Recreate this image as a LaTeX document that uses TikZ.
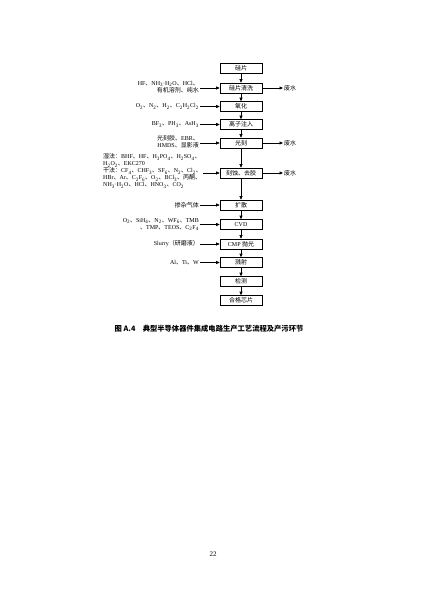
\documentclass[tikz,border=0pt]{standalone}
\usepackage{fontspec}
\setmainfont{Liberation Serif}
\newfontfamily\cjk{Noto Sans CJK SC}
\usetikzlibrary{arrows.meta}
\newcommand{\zhw}[1]{{\cjk #1}}
\newcommand{\chs}[1]{\textsubscript{#1}}

\begin{document}
\begin{tikzpicture}[x=1pt,y=-1pt,
        proc/.style = {draw, line width=0.6pt, minimum width=42pt, minimum height=10pt, inner sep=0pt, font=\fontsize{6}{7}\selectfont},
        lab/.style = {inner sep=1pt, font=\fontsize{6}{7}\selectfont},
        arrow/.style = {line width=0.6pt, -{Triangle[length=3.5pt,width=3pt]}}
        ]
        \useasboundingbox (0,0) rectangle (422,596);

        % process chain
        \node[proc] (wafer) at (241,68) {\zhw{硅片}};
        \node[proc] (clean) at (241,88) {\zhw{硅片清洗}};
        \node[proc] (oxid) at (241,106.5) {\zhw{氧化}};
        \node[proc] (implant) at (241,124.5) {\zhw{离子注入}};
        \node[proc] (litho) at (241,143) {\zhw{光刻}};
        \node[proc] (etch) at (241,173) {\zhw{刻蚀、去胶}};
        \node[proc] (diff) at (241,205) {\zhw{扩散}};
        \node[proc] (cvd) at (241,224.5) {CVD};
        \node[proc] (cmp) at (241,244) {CMP \zhw{抛光}};
        \node[proc] (sput) at (241,262.5) {\zhw{溅射}};
        \node[proc] (test) at (241,281.5) {\zhw{检测}};
        \node[proc] (chip) at (241,300.5) {\zhw{合格芯片}};

        \foreach \a/\b in {wafer/clean, clean/oxid, oxid/implant, implant/litho, litho/etch,
                etch/diff, diff/cvd, cvd/cmp, cmp/sput, sput/test, test/chip}
            \draw[arrow] (\a) -- (\b);

        % inputs
        \node[lab, anchor=east, align=right] (in1) at (200,87) {HF\zhw{、}NH\chs{3}·H\chs{2}O\zhw{、}HCl\zhw{、}\\\zhw{有机溶剂、纯水}};
        \node[lab, anchor=east] (in2) at (200,106.5) {O\chs{2}\zhw{、}N\chs{2}\zhw{、}H\chs{2}\zhw{、}C\chs{2}H\chs{2}Cl\chs{2}};
        \node[lab, anchor=east] (in3) at (200,124.5) {BF\chs{3}\zhw{、}PH\chs{3}\zhw{、}AsH\chs{3}};
        \node[lab, anchor=east, align=right] (in4) at (200,142) {\zhw{光刻胶、}EBR\zhw{、}\\HMDS\zhw{、显影液}};
        \node[lab, anchor=west, align=left] (in5) at (102,171) {\zhw{湿法：}BHF\zhw{、}HF\zhw{、}H\chs{3}PO\chs{4}\zhw{、}H\chs{2}SO\chs{4}\zhw{、}\\
            H\chs{2}O\chs{2}\zhw{、}EKC270\\
            \zhw{干法：}CF\chs{4}\zhw{、}CHF\chs{3}\zhw{、}SF\chs{6}\zhw{、}N\chs{2}\zhw{、}Cl\chs{2}\zhw{、}\\
            HBr\zhw{、}Ar\zhw{、}C\chs{2}F\chs{6}\zhw{、}O\chs{2}\zhw{、}BCl\chs{3}\zhw{、丙酮、}\\
            NH\chs{3}·H\chs{2}O\zhw{、}HCl\zhw{、}HNO\chs{3}\zhw{、}CO\chs{2}};
        \node[lab, anchor=east] (in6) at (200,205) {\zhw{掺杂气体}};
        \node[lab, anchor=east, align=right] (in7) at (200,224.5) {O\chs{2}\zhw{、}SiH\chs{4}\zhw{、}N\chs{2}\zhw{、}WF\chs{6}\zhw{、}TMB\\\zhw{、}TMP\zhw{、}TEOS\zhw{、}C\chs{2}F\chs{4}};
        \node[lab, anchor=east] (in8) at (200,244) {Slurry\zhw{（研磨液）}};
        \node[lab, anchor=east] (in9) at (200,262.5) {Al\zhw{、}Ti\zhw{、}W};

        \foreach \i/\b in {in1/clean, in2/oxid, in3/implant, in4/litho, in5/etch,
                in6/diff, in7/cvd, in8/cmp, in9/sput}
            \draw[arrow] (\b.west -| \i.east) -- (\b.west);

        % waste water
        \node[lab, anchor=west] (out1) at (283,88) {\zhw{废水}};
        \node[lab, anchor=west] (out2) at (283,143) {\zhw{废水}};
        \node[lab, anchor=west] (out3) at (283,173) {\zhw{废水}};
        \draw[arrow] (clean) -- (out1);
        \draw[arrow] (litho) -- (out2);
        \draw[arrow] (etch) -- (out3);

        % caption and page number
        \node[font=\fontsize{7.3}{8}\selectfont\cjk\bfseries] (cap) at (209,329) {图 A.4\quad 典型半导体器件集成电路生产工艺流程及产污环节};
        \node[font=\fontsize{7}{8}\selectfont] (page) at (213,554) {22};
    \end{tikzpicture}
\end{document}
